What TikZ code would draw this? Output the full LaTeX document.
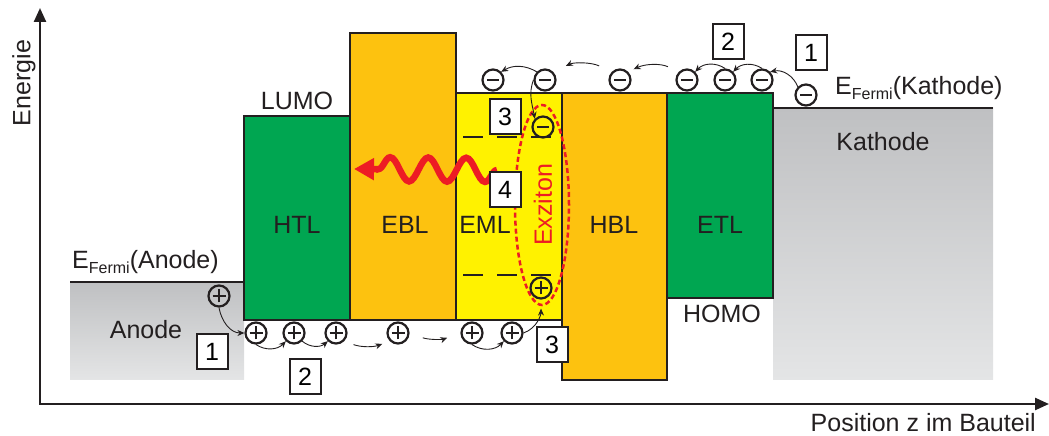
\documentclass[tikz,border=0pt]{standalone}
\usepackage{fontspec}
\setmainfont{Liberation Sans}
\usetikzlibrary{arrows.meta,positioning,calc,shapes.geometric,decorations.pathmorphing}
\definecolor{olGreen}{HTML}{00A651}
\definecolor{olOrange}{HTML}{FDC20F}
\definecolor{olYellow}{HTML}{FFF200}
\definecolor{olLine}{HTML}{231F20}
\definecolor{olRed}{HTML}{ED1C24}
\definecolor{olGrayTop}{HTML}{BFC0C2}
\definecolor{olGrayBot}{HTML}{E4E5E6}

\begin{document}
\begin{tikzpicture}[x=1pt,y=1pt,
  layer/.style={draw=olLine, line width=2.4pt},
  metal/.style={top color=olGrayTop, bottom color=olGrayBot, draw=none},
  fermi/.style={draw=olLine, line width=2.4pt},
  lbl/.style={font=\fontsize{25}{30}\selectfont, text=olLine, inner sep=0pt},
  numbox/.style={draw=olLine, fill=white, line width=2pt, minimum width=31pt,
    minimum height=35pt, inner sep=0pt, font=\fontsize{25}{30}\selectfont},
  charge/.style={circle, draw=olLine, line width=2.2pt, minimum size=21pt, inner sep=0pt},
  elec/.style={charge, path picture={
    \draw[olLine, line width=2.8pt] ([xshift=-6pt]path picture bounding box.center)
      -- ([xshift=6pt]path picture bounding box.center);}},
  hole/.style={charge, path picture={
    \draw[olLine, line width=1.8pt] ([xshift=-6.5pt]path picture bounding box.center)
      -- ([xshift=6.5pt]path picture bounding box.center)
      ([yshift=-6.5pt]path picture bounding box.center)
      -- ([yshift=6.5pt]path picture bounding box.center);}},
  hop/.style={-{Stealth[length=7pt,width=6pt]}, line width=0.9pt, draw=olLine},
  level/.style={draw=olLine, line width=2pt},
  exciton/.style={ellipse, draw=olRed, line width=2.5pt, dash pattern=on 5pt off 3pt,
    minimum width=54pt, minimum height=200pt, inner sep=0pt},
  photon/.style={draw=olRed, line width=6.5pt, -{Triangle[length=20pt,width=21pt]},
    decorate, decoration={snake, amplitude=12pt, segment length=38pt, post length=22pt}},
  axis/.style={draw=olLine, line width=2.4pt, -{Triangle[length=14pt,width=12pt]}}
  ]
  \useasboundingbox (0,0) rectangle (1049,436);

  % electrodes
  \fill[metal] (70,56) rectangle (244,154);
  \draw[fermi] (70,154) -- (244,154);
  \fill[metal] (773,56) rectangle (993,328);
  \draw[fermi] (773,328) -- (993,328);

  % organic layers
  \filldraw[layer, fill=olGreen] (244,116) rectangle (350,320);
  \filldraw[layer, fill=olOrange] (350,116) rectangle (456,403);
  \filldraw[layer, fill=olYellow] (456,116) rectangle (562,343);
  \filldraw[layer, fill=olOrange] (562,56) rectangle (667,343);
  \filldraw[layer, fill=olGreen] (667,138) rectangle (773,343);

  % axes
  \coordinate (O) at (40,32);
  \coordinate (yend) at (40,428);
  \coordinate (xend) at (1049,32);
  \draw[axis] (O |- 0,31) -- (yend);
  \draw[axis] (O) -- (xend);
  \node[lbl, rotate=90] (ylabel) at (24,353) {Energie};
  \node[lbl, anchor=base east] (xlabel) at (1036,4) {Position z im Bauteil};

  % labels
  \node[lbl] (lhtl) at (297,211) {HTL};
  \node[lbl] (lebl) at (405,211) {EBL};
  \node[lbl] (leml) at (485,211) {EML};
  \node[lbl] (lhbl) at (614,211) {HBL};
  \node[lbl] (letl) at (720,211) {ETL};
  \node[lbl] (llumo) at (297,335) {LUMO};
  \node[lbl] (lhomo) at (722,122) {HOMO};
  \node[lbl] (lanode) at (146,106) {Anode};
  \node[lbl] (lkath) at (883,294) {Kathode};
  \node[lbl, anchor=base west] (efa) at (72,167)
    {E\raisebox{-5pt}{\fontsize{16}{18}\selectfont Fermi}(Anode)};
  \node[lbl, anchor=base west] (efk) at (835,341)
    {E\raisebox{-5pt}{\fontsize{16}{18}\selectfont Fermi}(Kathode)};

  % emitter levels and exciton
  \foreach \y in {299,161}
    \foreach \a in {463,497,531}
      \draw[level] (\a,\y) -- ++(20,0);
  \node[exciton] (exz) at (542,231) {};
  \node[lbl, text=olRed, rotate=90] (lexz) at (543,231) {Exziton};

  % charges
  \foreach \n/\x in {1/493,2/545,3/620,4/687,5/725,6/762}
    \node[elec] (e\n) at (\x,356) {};
  \node[elec] (e7) at (806,341) {};
  \node[elec] (ex) at (543,309) {};
  \node[hole] (h0) at (219,140) {};
  \foreach \n/\x in {1/256,2/294,3/336,4/398,5/472,6/512}
    \node[hole] (h\n) at (\x,103) {};
  \node[hole] (hx) at (541,148) {};

  % electron hops
  \draw[hop] (e7.north west) to[bend right=40] (e6.north east);
  \draw[hop] (e6.north) to[bend right=40] (e5.north east);
  \draw[hop] (e5.north) to[bend right=40] (e4.north east);
  \draw[hop, shorten <=12pt, shorten >=6pt] (e4.north west) to[bend right=25] (e3.north east);
  \draw[hop, shorten <=14pt, shorten >=14pt] (e3.north west) to[bend right=25] (e2.north east);
  \draw[hop] (e2.north west) to[bend right=30] (e1.north east);
  \draw[hop] (e2.west) to[out=-110,in=100] (ex.north west);

  % hole hops
  \draw[hop] (h0.south) to[out=-80,in=180] (h1.west);
  \draw[hop] (h1.south) to[bend right=40] (h2.south west);
  \draw[hop] (h2.south east) to[bend right=40] (h3.south west);
  \draw[hop, shorten <=10pt, shorten >=8pt] (h3.south east) to[bend right=20] (h4.south west);
  \draw[hop, shorten <=14pt, shorten >=14pt] (h4.east) to[bend right=20] (h5.west);
  \draw[hop] (h5.south) to[bend right=40] (h6.south west);
  \draw[hop, shorten >=9pt] (h6.east) to[out=20,in=-90] (hx.south);

  % emission
  \coordinate (w0) at (497,266);
  \coordinate (w1) at (354,267);
  \draw[photon] (w0) -- (w1);

  % steps
  \node[numbox] (b1a) at (212,84) {1};
  \node[numbox] (b2a) at (305,59) {2};
  \node[numbox] (b3a) at (552,91) {3};
  \node[numbox] (b3c) at (505,319) {3};
  \node[numbox] (b4) at (505,246) {4};
  \node[numbox] (b2c) at (728,394) {2};
  \node[numbox] (b1c) at (811,383) {1};
\end{tikzpicture}
\end{document}
